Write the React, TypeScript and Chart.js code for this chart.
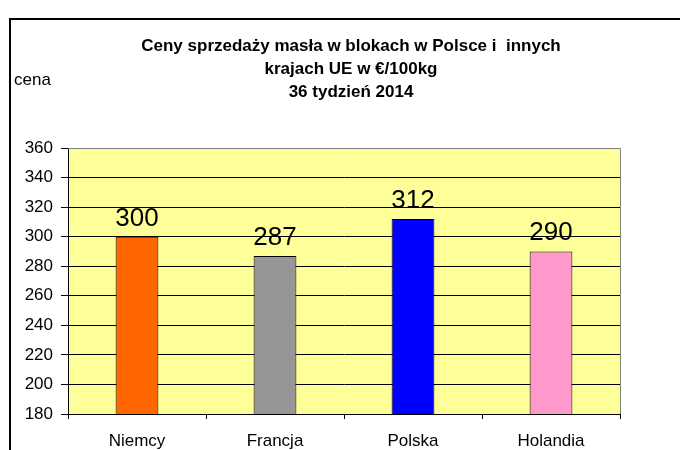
import React, { useEffect, useRef } from "react";
import { Chart, registerables } from "chart.js";

Chart.register(...registerables);

const categories = ["Niemcy", "Francja", "Polska", "Holandia"];
const prices = [300, 287, 312, 290];
const barColors = ["#FF6600", "#969696", "#0000FF", "#FF99CC"];
const titleLines = [
  "Ceny sprzedaży masła w blokach w Polsce i  innych",
  "krajach UE w €/100kg",
  "36 tydzień 2014",
];
const yAxisLabel = "cena";
const yMin = 180;
const yMax = 360;
const yStep = 20;

const FONT = "'Liberation Sans', Arial, sans-serif";

const decorPlugin = {
  id: "decor",
  beforeDraw(chart: any) {
    const { ctx, chartArea } = chart;
    ctx.save();
    ctx.fillStyle = "#ffffff";
    ctx.fillRect(0, 0, chart.width, chart.height);
    ctx.fillStyle = "#FFFF99";
    ctx.fillRect(chartArea.left, chartArea.top, chartArea.right - chartArea.left, chartArea.bottom - chartArea.top);
    ctx.restore();
  },
  afterDraw(chart: any) {
    const { ctx, chartArea } = chart;
    ctx.save();
    // outer frame
    ctx.strokeStyle = "#000000";
    ctx.lineWidth = 2;
    ctx.strokeRect(10, 19, 800, 600);
    // plot border top & right
    ctx.strokeStyle = "#808080";
    ctx.lineWidth = 1;
    ctx.beginPath();
    ctx.moveTo(chartArea.left, chartArea.top + 0.5);
    ctx.lineTo(chartArea.right + 0.5, chartArea.top + 0.5);
    ctx.lineTo(chartArea.right + 0.5, chartArea.bottom);
    ctx.stroke();
    // title
    ctx.fillStyle = "#000000";
    ctx.font = "bold 17px " + FONT;
    ctx.textAlign = "center";
    ctx.textBaseline = "middle";
    titleLines.forEach((line, i) => {
      ctx.fillText(line, 351, 46 + i * 23);
    });
    // y axis label
    ctx.font = "17px " + FONT;
    ctx.textAlign = "left";
    ctx.fillText(yAxisLabel, 14, 80);
    ctx.restore();
  },
  afterDatasetsDraw(chart: any) {
    const { ctx } = chart;
    const meta = chart.getDatasetMeta(0);
    ctx.save();
    ctx.fillStyle = "#000000";
    ctx.font = "26px " + FONT;
    ctx.textAlign = "center";
    ctx.textBaseline = "alphabetic";
    meta.data.forEach((el: any, i: number) => {
      ctx.fillText(String(prices[i]), el.x, el.y - 11);
    });
    ctx.restore();
  },
};

export default function App() {
  const canvasRef = useRef<HTMLCanvasElement | null>(null);

  useEffect(() => {
    if (!canvasRef.current) return;
    const chart = new Chart(canvasRef.current, {
      type: "bar",
      data: {
        labels: categories,
        datasets: [
          {
            data: prices,
            backgroundColor: barColors,
            borderColor: "#000000",
            borderWidth: 1,
            categoryPercentage: 1,
            barPercentage: 0.31,
          },
        ],
      },
      options: {
        responsive: false,
        animation: false,
        devicePixelRatio: 1,
        layout: { padding: { top: 148, right: 60, left: 0, bottom: 0 } },
        plugins: {
          legend: { display: false },
          title: { display: false },
          tooltip: { enabled: false },
        },
        scales: {
          x: {
            afterFit: (s: any) => {
              s.height = 36;
            },
            grid: {
              offset: true,
              drawOnChartArea: false,
              drawTicks: true,
              tickLength: 5,
              color: "#000000",
            },
            border: { display: true, color: "#000000", width: 1 },
            ticks: {
              color: "#000000",
              font: { family: FONT, size: 17 },
              padding: 12,
              maxRotation: 0,
            },
          },
          y: {
            min: yMin,
            max: yMax,
            afterFit: (s: any) => {
              s.width = 68;
            },
            grid: {
              color: (c: any) => (c.tick && c.tick.value === yMax ? "#808080" : "#000000"),
              tickLength: 7,
              drawTicks: true,
              tickColor: "#000000",
            },
            border: { display: true, color: "#000000", width: 1 },
            ticks: {
              stepSize: yStep,
              color: "#000000",
              font: { family: FONT, size: 17 },
              padding: 8,
            },
          },
        },
      },
      plugins: [decorPlugin],
    });
    return () => chart.destroy();
  }, []);

  return (
    <div style={{ position: "absolute", left: 0, top: 0, width: 680, height: 450 }}>
      <canvas ref={canvasRef} width={680} height={450} style={{ display: "block" }} />
    </div>
  );
}
